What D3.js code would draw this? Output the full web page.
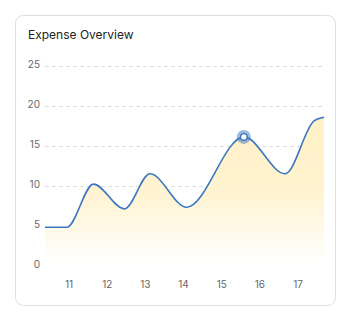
<!DOCTYPE html>
<html><head><meta charset="utf-8">
<script src="https://cdn.jsdelivr.net/npm/d3@7"></script>
<style>
html,body{margin:0;padding:0;background:#fff;}
svg{display:block;font-family:Inter, "Noto Sans", sans-serif;}
</style></head>
<body>
<svg id="c" width="352" height="322"></svg>
<script>
const title = "Expense Overview";
const days = [10.37, 10.94, 11.64, 12.45, 13.12, 14.08, 15.58, 16.66, 17.42, 17.68];
const values = [4.8, 4.8, 10.2, 7.1, 11.5, 7.3, 16.1, 11.5, 18.1, 18.55];
const yTicks = [0, 5, 10, 15, 20, 25];
const gridTicks = [10, 15, 20, 25];
const xTicks = [11, 12, 13, 14, 15, 16, 17];
const highlightIndex = 6;

const data = days.map((d, i) => ({x: d, y: values[i]}));
const svg = d3.select("#c");

svg.append("rect").attr("x", 15.5).attr("y", 15.5).attr("width", 320).attr("height", 290)
  .attr("rx", 8).attr("fill", "#fff").attr("stroke", "#dedede");

svg.append("text").attr("x", 28).attr("y", 39).text(title)
  .attr("font-size", 12).attr("fill", "#222");

const x = d3.scaleLinear().domain([days[0], days[days.length - 1]]).range([45, 324]);
const y = d3.scaleLinear().domain([0, 25]).range([265.7, 65.7]);

const defs = svg.append("defs");
const g = defs.append("linearGradient").attr("id", "grad")
  .attr("x1", 0).attr("y1", 0).attr("x2", 0).attr("y2", 1);
g.append("stop").attr("offset", "0%").attr("stop-color", "#fff1c6");
g.append("stop").attr("offset", "50%").attr("stop-color", "#fff3d0");
g.append("stop").attr("offset", "100%").attr("stop-color", "#ffffff");

// grid
svg.append("g").selectAll("line").data(gridTicks).join("line")
  .attr("x1", 45).attr("x2", 324)
  .attr("y1", d => Math.round(y(d)) + 0.5).attr("y2", d => Math.round(y(d)) + 0.5)
  .attr("stroke", "#dddddd").attr("stroke-dasharray", "4,3");

// y labels
svg.append("g").selectAll("text").data(yTicks).join("text")
  .attr("x", 40).attr("y", d => y(d) - 1).attr("dy", "0.35em")
  .attr("text-anchor", "end").attr("font-size", 10).attr("fill", "#666")
  .text(d => d);

// x labels
svg.append("g").selectAll("text").data(xTicks).join("text")
  .attr("x", d => x(d)).attr("y", 284).attr("dy", "0.35em")
  .attr("text-anchor", "middle").attr("font-size", 10).attr("fill", "#666")
  .text(d => d);

const curve = d3.curveMonotoneX;
const area = d3.area().x(d => x(d.x)).y0(y(0)).y1(d => y(d.y)).curve(curve);
const line = d3.line().x(d => x(d.x)).y(d => y(d.y)).curve(curve);

svg.append("path").datum(data).attr("d", area).attr("fill", "url(#grad)");
svg.append("path").datum(data).attr("d", line).attr("fill", "none")
  .attr("stroke", "#3a77c0").attr("stroke-width", 1.6);

const h = data[highlightIndex];
svg.append("circle").attr("cx", x(h.x)).attr("cy", y(h.y)).attr("r", 7)
  .attr("fill", "#3a77c0").attr("fill-opacity", 0.5);
svg.append("circle").attr("cx", x(h.x)).attr("cy", y(h.y)).attr("r", 3.3)
  .attr("fill", "#fff").attr("stroke", "#3a77c0").attr("stroke-width", 1.4);
</script>
</body></html>
